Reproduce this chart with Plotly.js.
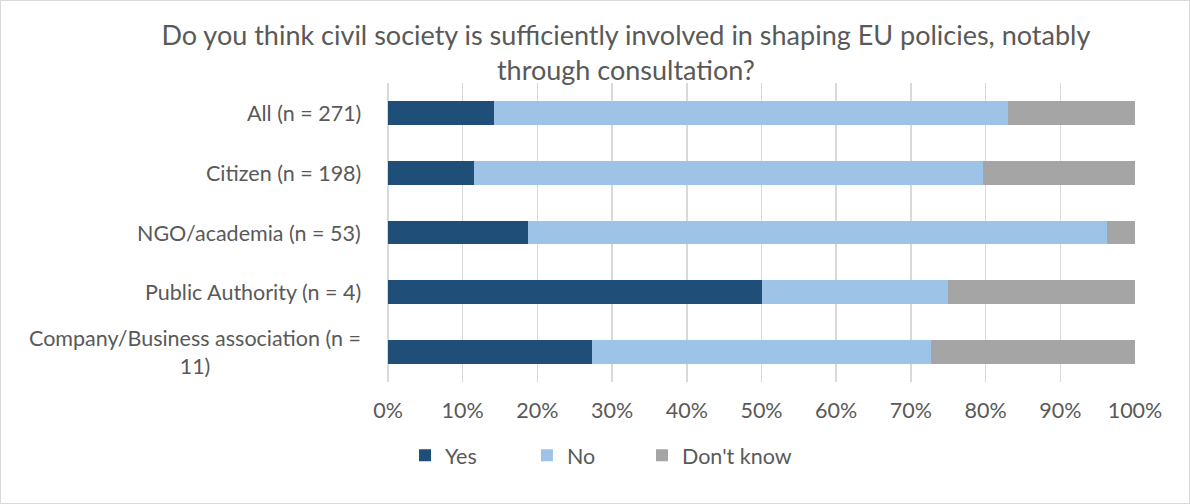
<!DOCTYPE html>
<html>
<head>
<meta charset="utf-8">
<script src="https://cdn.plot.ly/plotly-3.0.1.min.js"></script>
<style>
html,body{margin:0;padding:0;background:#fff;}
#chart{width:1188px;height:502px;border:1px solid #d9d9d9;}
</style>
</head>
<body>
<div id="chart"></div>
<script>
const categories = ["All (n = 271)", "Citizen (n = 198)", "NGO/academia (n = 53)", "Public Authority (n = 4)", "Company/Business association (n =<br>11)"];
const yesValues = [14.2, 11.5, 18.7, 50.0, 27.3];
const noValues = [68.8, 68.2, 77.6, 25.0, 45.4];
const dontKnowValues = [17.0, 20.3, 3.7, 25.0, 27.3];
const seriesNames = ["Yes", "No", "Don't know"];
const seriesColors = ["#1F4E79", "#9DC3E6", "#A5A5A5"];
const titleText = "Do you think civil society is sufficiently involved in shaping EU policies, notably<br>through consultation?";

const font = "Lato, 'Open Sans', sans-serif";
const legendIds = ["legend", "legend2", "legend3"];
const legendX = [0.0228, 0.186, 0.340];
const allSeries = [yesValues, noValues, dontKnowValues];
const traces = allSeries.map((vals, i) => ({
  type: "bar",
  orientation: "h",
  name: seriesNames[i],
  y: categories,
  x: vals.map(v => v / 100),
  marker: {color: seriesColors[i], line: {width: 0}},
  legend: legendIds[i],
  hoverinfo: "x+name"
}));

const annotations = categories.map(c => ({
  xref: "paper", yref: "y", x: -0.034, y: c,
  xanchor: "right", yanchor: "middle", align: "center",
  text: c, showarrow: false,
  font: {family: font, size: 21.5, color: "#595959"}
}));

const layout = {
  width: 1188, height: 502,
  margin: {l: 387, r: 54, t: 82, b: 121, autoexpand: false},
  paper_bgcolor: "#ffffff", plot_bgcolor: "#ffffff",
  barmode: "stack",
  bargap: 0.6,
  title: {
    text: titleText,
    x: 0.526, xanchor: "center", y: 0.912, yanchor: "top",
    font: {family: font, size: 27, color: "#595959"}
  },
  xaxis: {
    range: [0, 1], dtick: 0.1, tick0: 0, tickformat: ".0%",
    showgrid: true, gridcolor: "#d9d9d9", gridwidth: 1.5,
    zeroline: true, zerolinecolor: "#d9d9d9", zerolinewidth: 1.5,
    showline: false, ticks: "", tickangle: 0,
    ticklabelstandoff: 13,
    tickfont: {family: font, size: 21.5, color: "#595959"},
    fixedrange: true
  },
  yaxis: {
    categoryorder: "array", categoryarray: categories,
    autorange: "reversed",
    showticklabels: false, showgrid: false, zeroline: false, showline: false,
    ticks: "", fixedrange: true
  },
  showlegend: true,
  annotations: annotations
};
legendIds.forEach((id, i) => {
  layout[id] = {
    orientation: "h", x: legendX[i], xanchor: "left",
    y: -0.245, yanchor: "middle",
    font: {family: font, size: 21.5, color: "#595959"},
    itemwidth: 30, bgcolor: "rgba(0,0,0,0)"
  };
});

Plotly.newPlot("chart", traces, layout, {displayModeBar: false, staticPlot: true});
</script>
</body>
</html>
